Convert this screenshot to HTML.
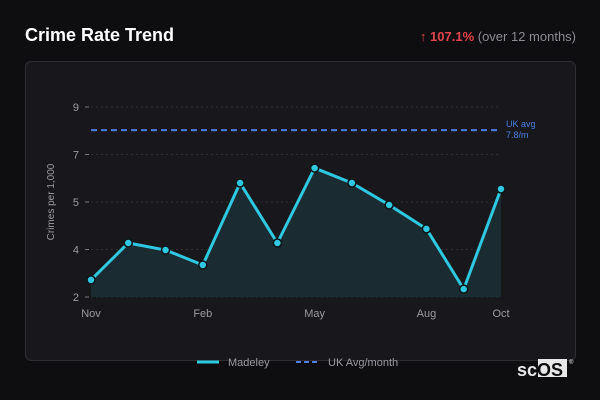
<!DOCTYPE html>
<html><head><meta charset="utf-8">
<style>
html,body{margin:0;padding:0;width:600px;height:400px;background:#0e0e11;overflow:hidden;font-family:"Liberation Sans",sans-serif;}
#title{position:absolute;left:25px;top:25px;font-size:18px;font-weight:bold;color:#fff;}
#change{position:absolute;right:24px;top:29px;font-size:13px;color:#8a8a90;}
#change b{color:#e0454a;}
#card{position:absolute;left:25px;top:61px;width:549px;height:298px;background:#18181c;border:1px solid #2c2c31;border-radius:6px;}
svg{position:absolute;left:0;top:0;}
</style></head><body>
<div id="title">Crime Rate Trend</div>
<div id="change"><b>↑ 107.1%</b> (over 12 months)</div>
<div id="card"></div>
<svg id="chart" width="600" height="400"></svg>
<script>
const months = ["Nov","Dec","Jan","Feb","Mar","Apr","May","Jun","Jul","Aug","Sep","Oct"];
const madeley = [2.63,3.99,3.73,3.18,6.20,3.99,6.75,6.20,5.39,4.51,2.29,5.98];
const ukAvg = [8.15];
const yTickValues = [2,3.75,5.5,7.25,9];
const yTickLabels = ["2","4","5","7","9"];
const xTickLabels = ["Nov","Feb","May","Aug","Oct"];
const xTickIndex = [0,3,6,9,11];

const NS="http://www.w3.org/2000/svg";
const svg=document.getElementById('chart');
const x0=91,x1=501,y0=297,y1=107,ymin=2,ymax=9;
const xs=i=>x0+(x1-x0)*i/(months.length-1);
const ys=v=>y0-(v-ymin)/(ymax-ymin)*(y0-y1);
function mk(tag,attrs,parent){const e=document.createElementNS(NS,tag);for(const k in attrs)e.setAttribute(k,attrs[k]);(parent||svg).appendChild(e);return e;}

yTickValues.forEach((v,i)=>{
  const g=mk('line',{x1:x0,x2:x1,y1:ys(v),y2:ys(v),stroke:'#2e2e33','stroke-dasharray':'2,3'});
  
  
  const tk=mk('line',{x1:x0-6,x2:x0-2,y1:ys(v),y2:ys(v),stroke:'#777'});
  
  
  const t=mk('text',{x:x0-12,y:ys(v)+4,'text-anchor':'end','font-size':'11',fill:'#9a9aa0'});
  t.textContent=yTickLabels[i];
  
  
});
xTickIndex.forEach((idx,i)=>{
  const t=mk('text',{x:xs(idx),y:317,'text-anchor':'middle','font-size':'11',fill:'#9a9aa0'});
  t.textContent=xTickLabels[i];
  
  
});
const yt=mk('text',{x:0,y:0,transform:'translate(54,202) rotate(-90)','text-anchor':'middle','font-size':'10',fill:'#9a9aa0'});
yt.textContent='Crimes per 1,000';



let d='M'+xs(0)+','+y0;
madeley.forEach((v,i)=>{d+=' L'+xs(i)+','+ys(v);});
d+=' L'+xs(madeley.length-1)+','+y0+' Z';
const area=mk('path',{d:d,fill:'#1a2b31'});



const ua=mk('line',{x1:x0,x2:x1,y1:ys(ukAvg[0]),y2:ys(ukAvg[0]),stroke:'#4a7fe0','stroke-width':'2','stroke-dasharray':'6,4'});


const ul=mk('text',{x:506,y:ys(ukAvg[0])-3,'font-size':'9',fill:'#4a7fe0'});
ul.textContent='UK avg';


const ul2=mk('text',{x:506,y:ys(ukAvg[0])+8,'font-size':'9',fill:'#4a7fe0'});
ul2.textContent='7.8/m';



const pts=madeley.map((v,i)=>xs(i)+','+ys(v)).join(' ');
const ln=mk('polyline',{points:pts,fill:'none',stroke:'#2ec8e0','stroke-width':'3','stroke-linejoin':'round'});


madeley.forEach((v,i)=>{
  const c=mk('circle',{cx:xs(i),cy:ys(v),r:4,fill:'#2ec8e0',stroke:'#0e1418','stroke-width':'1.5'});
  
  
});

const l1=mk('line',{x1:197,x2:219,y1:362,y2:362,stroke:'#2ec8e0','stroke-width':'3'});


const lt1=mk('text',{x:228,y:366,'font-size':'11',fill:'#9a9aa0'});
lt1.textContent='Madeley';


const l2=mk('line',{x1:296,x2:320,y1:362,y2:362,stroke:'#4a7fe0','stroke-width':'2','stroke-dasharray':'5,3'});


const lt2=mk('text',{x:328,y:366,'font-size':'11',fill:'#9a9aa0'});
lt2.textContent='UK Avg/month';



const lb=mk('rect',{x:538,y:359,width:29,height:18,fill:'#e8e8e8'});


const lg=mk('text',{x:517,y:376,'font-size':'18','font-weight':'bold',fill:'#e8e8e8'});
lg.innerHTML='sc<tspan fill="#0e0e11">OS</tspan>';


const rg=mk('text',{x:569,y:364,'font-size':'6',fill:'#e8e8e8'});
rg.textContent='®';


</script>
</body></html>
